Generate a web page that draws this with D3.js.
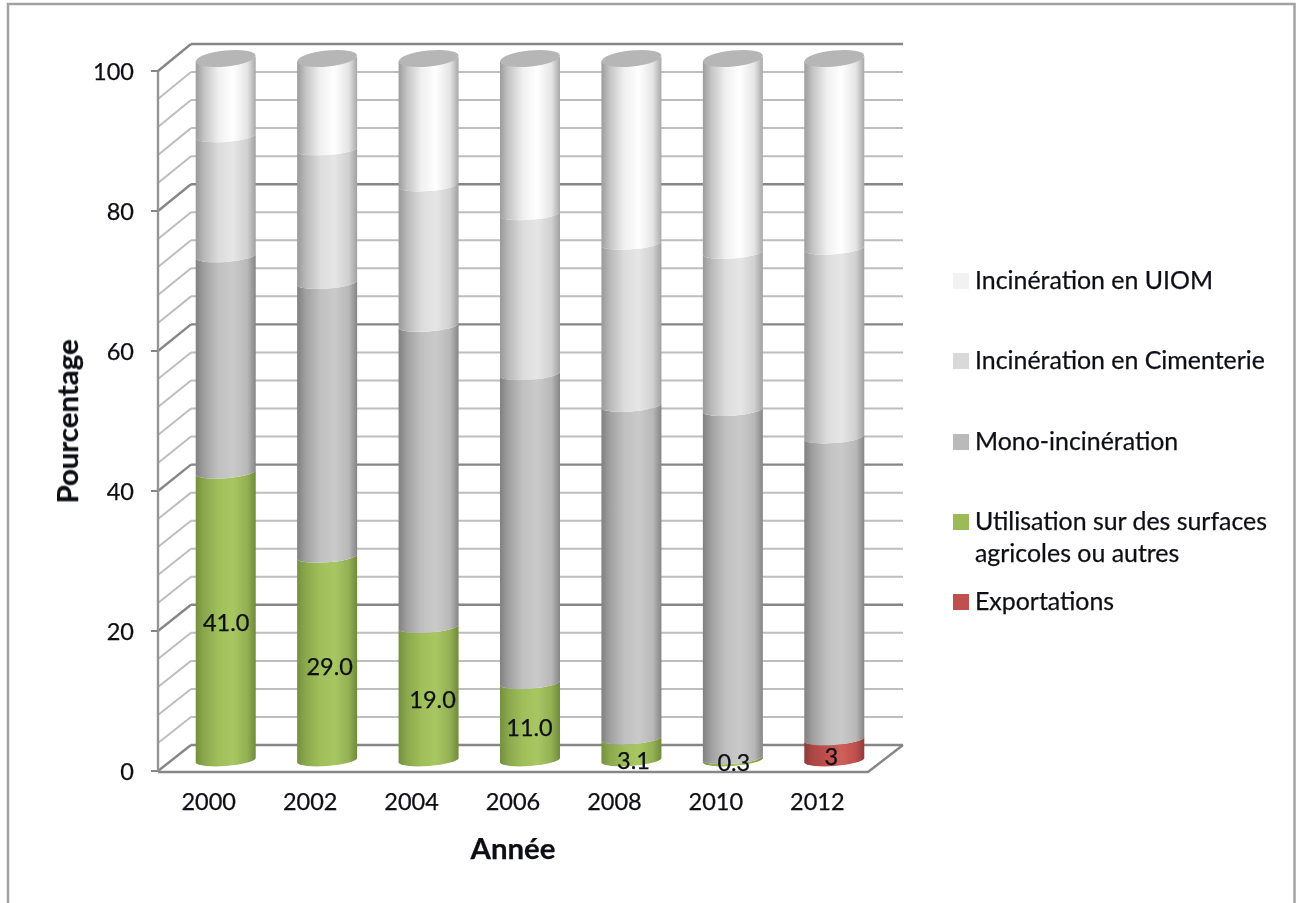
<!DOCTYPE html>
<html><head><meta charset="utf-8">
<script src="https://cdn.jsdelivr.net/npm/d3@7"></script>
<style>html,body{margin:0;padding:0;background:#fff}svg{display:block}text{font-family:Lato,"Open Sans",sans-serif;fill:#0d0d14;stroke:#0d0d14;stroke-width:0.25}</style>
</head><body><svg id="c" width="1301" height="903"></svg>
<script>
const years=["2000","2002","2004","2006","2008","2010","2012"];
const exportations=[0,0,0,0,0,0,3];
const agricoles=[41,29,19,11,3.1,0.3,0];
const mono=[30.8,39,42.9,44,47.4,49.6,43];
const cimenterie=[17.1,19,20,22.8,23.1,22.4,26.9];
const uiom=[11.1,13,18.1,22.2,26.4,27.7,27.1];
const labelTexts=["41.0","29.0","19.0","11.0","3.1","0.3","3"];
const yTicks=[0,20,40,60,80,100];
const gridValues=d3.range(0,101,4);
const seriesNames=["Exportations","Utilisation sur des surfaces agricoles ou autres","Mono-incinération","Incinération en Cimenterie","Incinération en UIOM"];
const seriesValues=[exportations,agricoles,mono,cimenterie,uiom];

const svg=d3.select("#c");
const defs=svg.append("defs");
defs.append("filter").attr("id","soft").attr("x","-5%").attr("y","-5%").attr("width","110%").attr("height","110%")
  .append("feGaussianBlur").attr("stdDeviation",0.7);
defs.append("filter").attr("id","softT").attr("x","-5%").attr("y","-5%").attr("width","110%").attr("height","110%")
  .append("feGaussianBlur").attr("stdDeviation",0.3);
const ramps=[
 ["#8c3b38","#ab4744","#c0504d","#cf5f5b","#bf504c","#8c3b38"],
 ["#74903f","#8aa84d","#9fbf5a","#a8c763","#93b053","#6f8a3c"],
 ["#808080","#a0a0a0","#c0c0c0","#cacaca","#b8b8b8","#858585"],
 ["#999999","#b8b8b8","#dcdcdc","#e6e6e6","#d0d0d0","#a0a0a0"],
 ["#9c9c9c","#c4c4c4","#f0f0f0","#ffffff","#e4e4e4","#a8a8a8"]];
const stops=[0,0.14,0.38,0.62,0.86,1];
ramps.forEach((r,i)=>{
  const g=defs.append("linearGradient").attr("id","g"+i).attr("x1",0).attr("x2",1).attr("y1",0).attr("y2",0);
  r.forEach((c,j)=>g.append("stop").attr("offset",stops[j]).attr("stop-color",c));
});
const swatch=["#c0504d","#9bbb59","#bababa","#d9d9d9","#f2f2f2"];

// frame
svg.append("path").attr("d","M8,903V4H1294.5V903").attr("fill","none").attr("stroke","#a2a2a2").attr("stroke-width",2.5);

// scales
const x=d3.scaleBand().domain(years).range([158,868]);
const yFront=d3.scaleLinear().domain([0,100]).range([771,71]);
const yBack=d3.scaleLinear().domain([0,100]).range([745,44]);
const yCyl=d3.scaleLinear().domain([0,100]).range([760.5,58.5]);
const xBack0=191,xBack1=903;
const R=30,TILT=2.3,RX=30.2,RY=6,ROT=-4.3;
const cx=d=>x(d)+x.bandwidth()/2+17;

const marks=svg.append("g").attr("filter","url(#soft)");
// walls
const gridColor=v=>v%20===0?"#868686":"#bebebe";
const gridW=v=>v%20===0?2.4:2;
marks.selectAll(".bk").data(gridValues).join("line").attr("x1",xBack0).attr("x2",xBack1)
  .attr("y1",yBack).attr("y2",yBack).attr("stroke",gridColor).attr("stroke-width",gridW);
marks.selectAll(".sd").data(gridValues).join("line").attr("x1",158).attr("x2",xBack0)
  .attr("y1",yFront).attr("y2",yBack).attr("stroke",gridColor).attr("stroke-width",gridW);
// floor
marks.append("path").attr("d",`M158,${yFront(0)+1}H868L${xBack1},${yBack(0)}`).attr("fill","none").attr("stroke","#868686").attr("stroke-width",2.4);
marks.append("line").attr("x1",158).attr("x2",158).attr("y1",yFront(100)).attr("y2",yFront(0)).attr("stroke","#949494").attr("stroke-width",2.4);
yTicks.forEach(t=>marks.append("line").attr("x1",151).attr("x2",158).attr("y1",yFront(t)).attr("y2",yFront(t)).attr("stroke","#868686").attr("stroke-width",2));

// cylinders
const seg=(c,a,b)=>{
  const ya=yCyl(a),yb=yCyl(b);
  return `M${c-R},${yb+TILT}A${RX},${RY} ${ROT} 0 0 ${c+R},${yb-TILT}L${c+R},${ya-TILT}A${RX},${RY} ${ROT} 0 1 ${c-R},${ya+TILT}Z`;
};
years.forEach((yr,i)=>{
  const c=cx(yr);let acc=0;
  seriesValues.forEach((s,k)=>{
    const v=s[i];
    if(v>0) marks.append("path").attr("d",seg(c,acc,acc+v)).attr("fill",`url(#g${k})`);
    acc+=v;
  });
  marks.append("ellipse").attr("cx",c).attr("cy",yCyl(100)).attr("rx",30).attr("ry",8)
    .attr("transform",`rotate(-6 ${c} ${yCyl(100)})`).attr("fill","#b6b6b6");
});

const txt=svg.append("g").attr("filter","url(#softT)");
// axes
const ax=txt.append("g").attr("transform","translate(158,0)").call(d3.axisLeft(yFront).tickValues(yTicks).tickSize(0).tickPadding(24));
ax.select(".domain").remove();
ax.selectAll("text").attr("font-size",23.5).attr("dy","0.34em").style("font-family","Lato");
const bx=txt.append("g").attr("transform","translate(0,771)").call(d3.axisBottom(x).tickSize(0).tickPadding(22));
bx.select(".domain").remove();
bx.selectAll("text").attr("font-size",23.5).style("font-family","Lato");

// value labels
const nudgeX=[0.5,2.5,4,-0.5,2,1,-3];
const nudgeY=[6,8,6,6,11,3.5,7];
labelTexts.forEach((t,i)=>{
  const v=exportations[i]>0?exportations[i]:agricoles[i];
  txt.append("text").attr("x",cx(years[i])+nudgeX[i]).attr("y",yCyl(v/2)+nudgeY[i]).attr("dy","0.35em")
    .attr("text-anchor","middle").attr("font-size",23.5).text(t);
});

// titles
txt.append("text").attr("transform","translate(78,421.5) rotate(-90)").attr("text-anchor","middle")
  .attr("font-size",29.4).attr("font-weight",700).text("Pourcentage");
txt.append("text").attr("x",513).attr("y",859).attr("text-anchor","middle")
  .attr("font-size",29.4).attr("font-weight",700).text("Année");

// legend
const legendRows=[
 {k:4,top:273,lines:["Incinération en UIOM"]},
 {k:3,top:353,lines:["Incinération en Cimenterie"]},
 {k:2,top:434,lines:["Mono-incinération"]},
 {k:1,top:514,lines:["Utilisation sur des surfaces","agricoles ou autres"]},
 {k:0,top:594,lines:["Exportations"]}];
legendRows.forEach(r=>{
  svg.append("rect").attr("x",953).attr("y",r.top).attr("width",16).attr("height",16).attr("fill",swatch[r.k]);
  const t=txt.append("text").attr("x",975).attr("y",r.top+15.5).attr("font-size",24.9);
  r.lines.forEach((l,i)=>t.append("tspan").attr("x",975).attr("dy",i?32.5:0).text(l));
});
</script></body></html>
